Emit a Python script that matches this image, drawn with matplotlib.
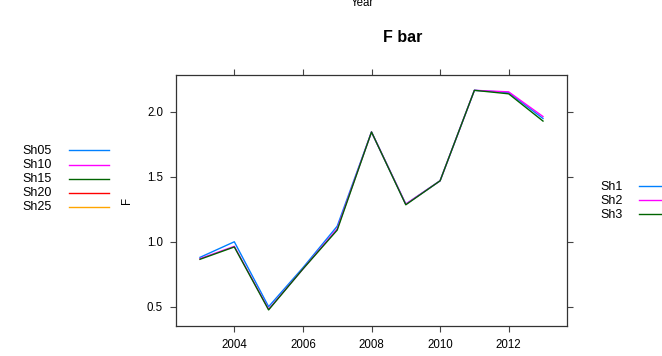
import matplotlib
matplotlib.use("Agg")
import matplotlib.pyplot as plt
from matplotlib.lines import Line2D

plt.rcParams['font.family'] = ['Liberation Sans', 'DejaVu Sans']

years = [2003, 2004, 2005, 2006, 2007, 2008, 2009, 2010, 2011, 2012, 2013]
sh1 = [0.88, 1.00, 0.50, 0.80, 1.12, 1.846, 1.29, 1.47, 2.167, 2.15, 1.95]
sh2 = [0.87, 0.965, 0.48, 0.79, 1.10, 1.846, 1.29, 1.47, 2.167, 2.155, 1.965]
sh3 = [0.865, 0.96, 0.475, 0.79, 1.09, 1.846, 1.285, 1.47, 2.167, 2.14, 1.93]
series_names = ['Sh1', 'Sh2', 'Sh3']
left_names = ['Sh05', 'Sh10', 'Sh15', 'Sh20', 'Sh25']
left_colors = ['#0080ff', '#ff00ff', '#006400', '#ff0000', '#ffa500']
right_colors = ['#0080ff', '#ff00ff', '#006400']
xticks = [2004, 2006, 2008, 2010, 2012]
yticks = [0.5, 1.0, 1.5, 2.0]

W, H = 662, 356
fig = plt.figure(figsize=(W / 100, H / 100), dpi=100)
ax = fig.add_axes([176 / W, (H - 326) / H, 391 / W, 251 / H])

for ys, c in zip([sh1, sh2, sh3], right_colors):
    ax.plot(years, ys, color=c, lw=1.0)

ax.set_xlim(2002.3, 2013.7)
ax.set_ylim(0.351, 2.285)
ax.set_xticks(xticks)
ax.set_yticks(yticks)
ax.set_yticklabels([f"{v:.1f}" for v in yticks])
ax.tick_params(axis='both', direction='out', length=4.3, width=0.8, color='#444444',
               labelsize=8.3, top=True, right=True, labeltop=False, labelright=False)
ax.tick_params(axis='x', pad=5)
ax.tick_params(axis='y', pad=5)
for s in ax.spines.values():
    s.set_color('#333333')
    s.set_linewidth(0.9)

def fx(px):
    return px / W

def fy(py):
    return (H - py) / H

fig.text(fx(403), fy(38), 'F bar', fontsize=11.5, fontweight='bold', ha='center', va='center')
fig.text(fx(362), fy(3), 'Year', fontsize=8.3, ha='center', va='center')
fig.text(fx(127), fy(200), 'F', fontsize=8.3, ha='center', va='center', rotation=90)

left_rows = [150.5, 164.5, 178.5, 192.5, 206.5]
for name, c, y in zip(left_names, left_colors, left_rows):
    fig.text(fx(22), fy(y + 1), name, fontsize=9, ha='left', va='center')
    fig.add_artist(Line2D([fx(69), fx(109)], [fy(y), fy(y)], color=c, lw=1.0))

right_rows = [186, 200, 214]
for name, c, y in zip(series_names, right_colors, right_rows):
    fig.text(fx(600), fy(y + 1), name, fontsize=9, ha='left', va='center')
    fig.add_artist(Line2D([fx(639), fx(662)], [fy(y), fy(y)], color=c, lw=1.0))

fig.savefig('out.png', dpi=100)
